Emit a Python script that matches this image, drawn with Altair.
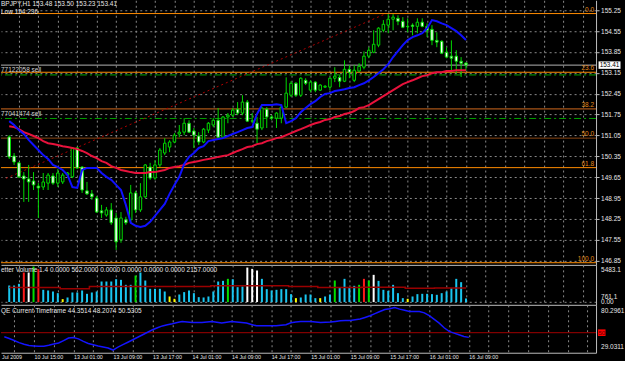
import altair as alt
import pandas as pd

FONT = "Liberation Sans"
TXT = "#e6e6e6"
GRID = "#8a8a8a"
BORDER = "#bdbdbd"

# ---------------- data ----------------
opens = [151.00,150.36,150.13,149.69,149.59,149.52,149.35,149.32,149.45,149.69,
         149.45,149.49,149.72,149.66,150.63,149.99,149.19,149.09,148.95,148.52,
         148.38,148.55,148.28,147.55,148.22,148.22,149.12,148.55,148.99,149.99,
         149.62,150.06,150.46,150.66,150.83,151.10,151.16,151.46,151.20,151.03,
         150.83,151.23,151.40,151.56,150.99,151.67,151.73,151.93,151.80,152.17,
         151.53,151.46,151.30,151.93,151.67,151.63,151.63,152.00,152.40,152.80,
         152.40,152.90,152.57,152.84,152.57,152.67,152.67,152.97,153.00,152.87,
         153.27,152.90,153.21,153.34,153.71,153.84,154.08,154.58,154.75,154.95,
         154.98,154.88,154.71,154.75,154.71,154.85,154.71,154.61,154.24,154.21,
         153.84,153.71,153.71,153.54,153.48]
highs = [151.06,150.46,150.16,149.82,150.06,149.82,149.45,149.79,149.79,149.79,
         149.92,149.79,149.82,150.66,150.66,150.02,149.49,149.22,149.02,148.72,
         148.65,148.78,148.45,148.48,148.32,149.39,149.19,149.45,150.09,150.13,
         150.22,150.63,150.96,150.89,151.13,151.40,151.63,151.56,151.30,151.16,
         151.30,151.50,151.63,151.97,151.70,151.80,151.97,152.17,152.40,152.24,
         151.80,151.67,152.00,152.00,151.73,151.83,152.07,153.00,152.87,152.84,
         153.00,152.97,152.90,152.87,152.77,152.74,153.00,153.34,153.07,153.57,
         153.41,153.41,153.47,153.87,154.01,154.58,154.68,154.92,155.12,155.12,
         155.08,155.02,154.98,154.81,154.98,154.98,154.81,154.75,154.51,154.24,
         154.01,154.24,153.91,153.68,153.50]
lows = [150.26,150.06,149.62,148.82,148.82,149.22,148.28,149.22,149.22,149.39,
        149.32,149.42,149.69,149.62,149.92,149.12,149.05,148.89,148.45,148.28,
        148.32,148.05,147.21,147.45,148.05,148.12,148.45,148.48,148.95,149.56,
        149.56,149.99,150.39,150.49,150.79,150.99,151.06,151.13,150.63,150.73,
        150.79,151.13,151.33,150.96,150.96,151.46,151.67,151.73,151.73,151.50,
        151.46,150.79,151.23,151.30,151.56,151.30,151.46,151.97,152.34,152.34,
        152.34,152.74,152.50,152.50,152.54,152.64,152.57,152.84,152.67,152.84,
        152.97,152.84,153.17,153.27,153.64,153.81,154.01,154.51,154.48,154.58,
        154.75,154.65,154.51,154.41,154.48,154.68,154.35,154.08,154.01,153.78,
        153.64,153.17,153.14,153.01,153.23]
closes = [150.33,150.16,149.66,149.59,149.49,149.39,149.29,149.49,149.72,149.45,
          149.79,149.72,149.79,150.63,149.96,149.22,149.09,148.99,148.48,148.45,
          148.55,148.12,147.48,148.28,148.12,149.12,148.55,148.99,150.06,149.62,
          150.06,150.56,150.79,150.83,151.06,151.16,151.46,151.16,151.06,150.83,
          151.26,151.46,151.56,150.99,151.67,151.73,151.90,151.80,152.17,151.53,
          151.54,151.26,151.97,151.67,151.63,151.80,152.00,152.47,152.80,152.40,
          152.97,152.80,152.84,152.57,152.74,152.70,152.97,153.04,152.87,153.27,
          153.17,153.24,153.37,153.71,153.91,154.11,154.65,154.78,154.95,155.02,
          154.88,154.68,154.70,154.71,154.85,154.71,154.58,154.24,154.18,153.81,
          153.68,153.64,153.54,153.47,153.41]
ma_fast = [151.53,151.40,151.23,151.10,150.90,150.73,150.56,150.39,150.26,150.06,
           149.99,149.89,149.72,149.32,149.29,149.89,149.96,149.96,149.96,149.79,
           149.66,149.56,149.39,149.22,148.72,148.12,148.02,147.98,148.02,148.15,
           148.35,148.55,148.75,149.09,149.39,149.66,150.09,150.33,150.46,150.63,
           150.69,150.86,150.90,150.93,150.96,151.03,151.10,151.16,151.23,151.30,
           151.33,151.77,152.07,152.07,152.07,152.10,152.07,151.46,151.53,151.63,
           151.83,151.97,152.10,152.20,152.34,152.44,152.47,152.54,152.57,152.60,
           152.64,152.67,152.74,152.80,152.90,153.01,153.14,153.27,153.44,153.68,
           153.88,154.08,154.25,154.35,154.41,154.48,154.65,154.92,154.88,154.81,
           154.75,154.65,154.55,154.41,154.25]
ma_slow = [151.36,151.33,151.26,151.16,151.10,151.03,150.96,150.86,150.79,150.76,
           150.73,150.69,150.66,150.63,150.59,150.53,150.46,150.36,150.29,150.19,
           150.13,150.02,149.96,149.89,149.86,149.82,149.79,149.79,149.79,149.82,
           149.82,149.86,149.89,149.96,149.99,150.02,150.06,150.13,150.16,150.19,
           150.23,150.26,150.29,150.33,150.36,150.39,150.46,150.53,150.59,150.66,
           150.69,150.76,150.79,150.86,150.90,150.96,150.99,151.06,151.13,151.20,
           151.26,151.33,151.40,151.46,151.50,151.57,151.60,151.67,151.70,151.77,
           151.80,151.87,151.97,152.00,152.07,152.17,152.27,152.37,152.47,152.57,
           152.67,152.77,152.84,152.90,152.97,153.04,153.07,153.14,153.17,153.17,
           153.21,153.21,153.24,153.24,153.24]
volumes = [2561,2561,2818,4563,4563,5483,5077,1894,1791,1637,
           1380,457,713,1483,1483,1791,1278,1483,1637,3177,
           3177,3177,3537,3434,2664,2664,4101,4563,3331,2048,
           2048,2048,1637,868,508,1175,1540,1791,1380,765,
           713,868,1637,3177,3280,3588,3537,2305,2407,5333,
           5128,4871,3588,1997,1791,1894,1997,1997,1227,610,
           713,1175,1175,610,610,868,1175,3331,2253,3588,
           2305,2510,2664,3588,3331,4204,3280,1894,1740,2664,
           1380,610,508,868,1227,1278,1278,1227,1125,1380,
           1637,2151,3588,3075,562]
vol_kind_special = {3: "red", 6: "red", 73: "red",
                    4: "white", 49: "white", 50: "white", 51: "white", 75: "white",
                    5: "green", 26: "green", 45: "green", 67: "green", 72: "green", 74: "green",
                    11: "yellow", 33: "yellow", 34: "yellow", 59: "yellow", 64: "yellow", 82: "yellow"}
vol_avg = ([2253] * 11 + [2048] * 6 + [2407] * 25 + [2510] * 16 + [2407] * 6 +
           [2253] * 9 + [2305] * 9 + [2151] * 6 + [2160] * 7)
qe_values = [45.0,43.0,40.5,38.0,36.0,34.6,34.0,33.5,33.6,34.8,
             36.3,37.6,40.5,43.5,44.2,42.5,39.5,37.0,35.5,34.0,
             32.8,31.5,29.03,32.5,35.5,38.5,41.5,44.5,47.5,50.5,
             53.5,56.0,58.2,59.6,60.8,62.2,63.6,63.0,62.4,62.4,
             62.4,63.0,63.6,62.6,61.6,62.6,63.6,63.0,62.3,61.6,
             60.0,58.4,58.4,58.4,58.4,58.4,59.0,59.6,62.0,63.0,
             63.6,63.6,63.6,63.0,62.4,62.6,62.8,63.6,64.4,64.6,
             64.8,65.6,66.5,68.4,70.4,73.0,75.6,78.0,78.9,80.30,
             78.5,77.0,75.6,75.6,75.6,74.0,70.5,66.0,61.6,56.0,
             51.5,49.5,47.5,45.5,44.35]

fib_levels = ["0.0", "23.6", "38.2", "50.0", "61.8", "100.0"]
fib_prices = [155.14, 153.17, 151.94, 150.96, 149.97, 146.78]
fib_colors = ["#ff8c00", "#ff8c00", "#d2691e", "#8b4513", "#ff8c00", "#ff8c00"]
order_labels = ["77122058 sell", "77041474 sell"]
order_prices = [153.08, 151.62]
bid_price = 153.41
trend_k = [-0.67, 77.0]
trend_prices = [149.61, 155.10]
price_ticks = [155.25, 154.55, 153.85, 153.15, 152.45, 151.75, 151.05,
               150.35, 149.65, 148.95, 148.25, 147.55, 146.85]
time_label_k = [6, 14, 22, 30, 38, 46, 54, 62, 70, 78, 86, 94]
time_labels = ["10 Jul 15:00", "13 Jul 01:00", "13 Jul 09:00", "13 Jul 17:00",
               "14 Jul 01:00", "14 Jul 09:00", "14 Jul 17:00", "15 Jul 01:00",
               "15 Jul 09:00", "15 Jul 17:00", "16 Jul 01:00", "16 Jul 09:00"]
title_line1 = "BPJPY,H1  153.48 153.50 153.23 153.41"
title_line2 = "Low 154.236"
vol_title = "etter Volume 1.4 0.0000 562.0000 0.0000 0.0000 0.0000 0.0000 2157.0000"
qe_title = "QE Current Timeframe 44.3514 48.2074 50.5305"
vol_max, vol_mid = 5483.1, 761.1
qe_max, qe_min, qe_level = 80.2961, 29.0311, 50

VOL_COLORS = {"cyan": "#19c6f0", "red": "#ff1a1a", "white": "#ffffff",
              "green": "#00e000", "yellow": "#ffff00"}

# ---------------- scales / axes ----------------
n = len(opens)
k_index = list(range(n))
XS = alt.Scale(domain=[-0.667, 119.74], nice=False, zero=False)
grid_k = list(range(2, 119, 4))


def x_axis(show_labels):
    kw = dict(values=grid_k, grid=True, gridColor=GRID, gridDash=[2, 3], gridWidth=1,
              domain=True, domainColor=BORDER, domainWidth=1, ticks=False, title=None)
    if show_labels:
        expr = ""
        for kk, t in zip(time_label_k, time_labels):
            expr += f"datum.value == {kk} ? '{t}' : "
        expr += "''"
        kw.update(labels=True, labelExpr=expr, labelAlign="left", labelBaseline="top",
                  labelPadding=2, labelColor=TXT, labelFont=FONT, labelFontSize=5.3,
                  labelFlush=False, labelOverlap=False, labelBound=False)
    else:
        kw.update(labels=False)
    return alt.Axis(**kw)


def X(show=False):
    return alt.X("k:Q", scale=XS, axis=x_axis(show))


YM = alt.Scale(domain=[146.7075, 155.585], nice=False, zero=False)
ax_main_y = alt.Axis(orient="right", values=price_ticks, format=".2f", grid=True,
                     gridColor=GRID, gridDash=[2, 3], domain=True, domainColor=BORDER,
                     ticks=True, tickColor=BORDER, tickSize=3, labelColor=TXT,
                     labelFont=FONT, labelFontSize=6.5, labelPadding=1.5,
                     labelOverlap=False, labelFlush=False, title=None)


def YMf(f):
    return alt.Y(f"{f}:Q", scale=YM, axis=ax_main_y)


def YMd(v):
    return alt.YDatum(v, scale=YM, axis=ax_main_y)


# ---------------- main panel ----------------
bars_df = pd.DataFrame({"k": k_index, "open": opens, "high": highs, "low": lows, "close": closes,
                        "fast": ma_fast, "slow": ma_slow})
bars_df["fill"] = ["#000000" if c > o else "#ffffff" for o, c in zip(opens, closes)]
fib_df = pd.DataFrame({"p": fib_prices, "lab": fib_levels, "col": fib_colors})
ord_df = pd.DataFrame({"p": order_prices, "lab": order_labels})
trend_df = pd.DataFrame({"k": trend_k, "p": trend_prices})
one = pd.DataFrame({"t": [title_line1], "t2": [title_line2], "bid": [f"{bid_price:.2f}"]})

fib_rules = alt.Chart(fib_df).mark_rule(strokeWidth=1).encode(
    y=YMf("p"), color=alt.Color("col:N", scale=None))
ord_rules = alt.Chart(ord_df).mark_rule(color="#00a400", strokeDash=[7, 3, 2, 3], strokeWidth=1).encode(
    y=YMf("p"))
bid_rule = alt.Chart(one).mark_rule(color="#b4b4b4", strokeWidth=1).encode(y=YMd(bid_price))
trend = alt.Chart(trend_df).mark_line(color="#b00000", strokeDash=[2, 3], strokeWidth=1).encode(
    x=X(), y=YMf("p"))
wicks = alt.Chart(bars_df).mark_rule(color="#00d800", strokeWidth=1).encode(
    x=X(), y=YMf("low"), y2="high")
bodies = alt.Chart(bars_df).mark_bar(size=2.5, stroke="#00d800", strokeWidth=1).encode(
    x=X(), y=YMf("open"), y2="close", fill=alt.Fill("fill:N", scale=None))
slow_line = alt.Chart(bars_df).mark_line(color="#e8123c", strokeWidth=2).encode(x=X(), y=YMf("slow"))
fast_line = alt.Chart(bars_df).mark_line(color="#1010ff", strokeWidth=2).encode(x=X(), y=YMf("fast"))
fib_text = alt.Chart(fib_df).mark_text(align="right", baseline="bottom", dy=-1, font=FONT,
                                       fontSize=6.5, color="#e38a1c").encode(
    x=alt.value(594), y=YMf("p"), text="lab:N")
ord_text = alt.Chart(ord_df).mark_text(align="left", baseline="bottom", dy=-1.5, font=FONT,
                                       fontSize=6.5, color="#d0d0d0").encode(
    x=alt.value(0), y=YMf("p"), text="lab:N")
t1 = alt.Chart(one).mark_text(align="left", baseline="middle", font=FONT, fontSize=6.5,
                              color=TXT).encode(x=alt.value(0), y=alt.value(4), text="t:N")
t2 = alt.Chart(one).mark_text(align="left", baseline="middle", font=FONT, fontSize=6.5,
                              color=TXT).encode(x=alt.value(0), y=alt.value(11.5), text="t2:N")
bid_box = alt.Chart(one).mark_rect(color="#ffffff").encode(
    x=alt.value(598.5), x2=alt.value(620.5),
    y=YMd(bid_price + 0.125), y2=alt.Y2Datum(bid_price - 0.125))
bid_text = alt.Chart(one).mark_text(align="center", baseline="middle", font=FONT, fontSize=6.5,
                                    color="#000000").encode(
    x=alt.value(609.5), y=YMd(bid_price), text="bid:N")

main = alt.layer(fib_rules, ord_rules, bid_rule, trend, wicks, bodies, slow_line, fast_line,
                 fib_text, ord_text, t1, t2, bid_box, bid_text).properties(width=596, height=265)

# ---------------- volume panel ----------------
YV = alt.Scale(domain=[-416, 5745], nice=False, zero=False)
ax_vol_y = alt.Axis(orient="right", values=[0], labels=False, ticks=False, grid=True,
                    gridColor=GRID, gridDash=[2, 3], domain=True, domainColor=BORDER, title=None)
vol_kinds = [vol_kind_special.get(i, "cyan") for i in k_index]
vol_df = pd.DataFrame({"k": k_index, "v": volumes, "a": vol_avg,
                       "c": [VOL_COLORS[t] for t in vol_kinds]})
vbars = alt.Chart(vol_df).mark_bar(size=2).encode(
    x=X(), y=alt.Y("v:Q", scale=YV, axis=ax_vol_y), y2=alt.Y2Datum(0),
    color=alt.Color("c:N", scale=None))
vavg = alt.Chart(vol_df).mark_line(color="#9a0000", strokeWidth=1.5, interpolate="step").encode(
    x=X(), y=alt.Y("a:Q", scale=YV, axis=ax_vol_y))
vone = pd.DataFrame({"t": [vol_title], "mx": [f"{vol_max:.1f}"], "md": [f"{vol_mid:.1f}"], "z": ["0.00"]})
vtitle = alt.Chart(vone).mark_text(align="left", baseline="middle", font=FONT, fontSize=6.5,
                                   color=TXT).encode(x=alt.value(0), y=alt.value(5.5), text="t:N")


def vlab(field, val, baseline, dy=0):
    return alt.Chart(vone).mark_text(align="left", baseline=baseline, dy=dy, font=FONT,
                                     fontSize=6.5, color=TXT).encode(
        x=alt.value(601), y=alt.YDatum(val, scale=YV, axis=ax_vol_y), text=f"{field}:N")


vol = alt.layer(vbars, vavg, vtitle, vlab("mx", vol_max, "top"), vlab("md", vol_mid, "middle"),
                vlab("z", 0, "middle", -0.5)).properties(width=596, height=40)

# ---------------- QE panel ----------------
YQ = alt.Scale(domain=[25.8, 83.7], nice=False, zero=False)
ax_qe_y = alt.Axis(orient="right", values=[qe_level], labels=False, ticks=False, grid=False,
                   domain=True, domainColor=BORDER, title=None)
qe_df = pd.DataFrame({"k": k_index, "q": qe_values})
qone = pd.DataFrame({"t": [qe_title], "mx": [f"{qe_max:.4f}"], "mn": [f"{qe_min:.4f}"],
                     "lv": [str(qe_level)], "jul": ["Jul 2009"]})
qline = alt.Chart(qe_df).mark_line(color="#1414ff", strokeWidth=1.5).encode(
    x=X(True), y=alt.Y("q:Q", scale=YQ, axis=ax_qe_y))
qrule = alt.Chart(qone).mark_rule(color="#a00000", strokeWidth=1).encode(
    y=alt.YDatum(qe_level, scale=YQ, axis=ax_qe_y))
qtitle = alt.Chart(qone).mark_text(align="left", baseline="middle", font=FONT, fontSize=6.5,
                                   color=TXT).encode(x=alt.value(0), y=alt.value(6.7), text="t:N")
qmx = alt.Chart(qone).mark_text(align="left", baseline="top", font=FONT, fontSize=6.5,
                                color=TXT).encode(x=alt.value(601),
                                                  y=alt.YDatum(qe_max, scale=YQ, axis=ax_qe_y), text="mx:N")
qmn = alt.Chart(qone).mark_text(align="left", baseline="bottom", font=FONT, fontSize=6.5,
                                color=TXT).encode(x=alt.value(601),
                                                  y=alt.YDatum(qe_min, scale=YQ, axis=ax_qe_y), text="mn:N")
qbox = alt.Chart(qone).mark_rect(color="#ff0000").encode(
    x=alt.value(598), x2=alt.value(605.5),
    y=alt.YDatum(qe_level + 4, scale=YQ, axis=ax_qe_y), y2=alt.Y2Datum(qe_level - 4))
qlv = alt.Chart(qone).mark_text(align="center", baseline="middle", font=FONT, fontSize=6,
                                color="#600000").encode(
    x=alt.value(601.8), y=alt.YDatum(qe_level, scale=YQ, axis=ax_qe_y), text="lv:N")
qjul = alt.Chart(qone).mark_text(align="left", baseline="top", font=FONT, fontSize=5.3,
                                 color=TXT).encode(x=alt.value(1), y=alt.value(50), text="jul:N")

qe = alt.layer(qrule, qline, qtitle, qmx, qmn, qbox, qlv, qjul).properties(width=596, height=48)

chart = alt.vconcat(main, vol, qe, spacing=0, bounds="flush", padding=0,
                    background="#000000").configure_view(stroke=None)

chart.save("out.html", embed_options={"renderer": "svg", "actions": False})
